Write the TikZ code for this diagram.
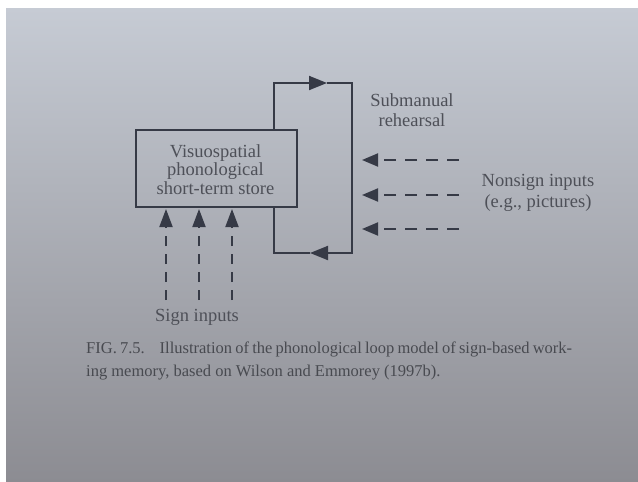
\documentclass[tikz,border=0pt]{standalone}
\usepackage{fontspec}
\setmainfont{Liberation Serif}
\usetikzlibrary{arrows.meta}
\definecolor{ink}{RGB}{54,58,70}
\definecolor{txt}{RGB}{78,80,88}
\definecolor{captxt}{RGB}{72,74,80}
\definecolor{bgtop}{RGB}{198,203,212}
\definecolor{bgmid}{RGB}{174,177,182}
\definecolor{bgbot}{RGB}{140,140,146}
\tikzset{
  solidline/.style={draw=ink, line width=1.9pt},
  looparrow/.style={solidline, -{Triangle[length=18pt,width=14pt]}},
  sidearrow/.style={draw=ink, line width=1.9pt, dash pattern=on 12pt off 9pt, -{Triangle[length=16pt,width=13pt]}},
  uparrow/.style={draw=ink, line width=1.9pt, dash pattern=on 10pt off 8pt, -{Triangle[length=18pt,width=13pt]}},
  lbl/.style={text=txt, align=center, inner sep=0pt},
  capline/.style={text=captxt, anchor=base west, inner sep=0pt, font=\fontsize{16.5}{19}\selectfont}
}
\begin{document}
\begin{tikzpicture}[x=1pt,y=-1pt]
\useasboundingbox (0,0) rectangle (638,482);
\fill[white] (0,0) rectangle (638,482);
\shade[top color=bgtop, middle color=bgmid, bottom color=bgbot] (6,8) rectangle (638,482);

% store box
\node[solidline, minimum width=161pt, minimum height=77pt, inner sep=0pt, anchor=north west] (store) at (135,129) {};
\node[lbl, font=\fontsize{18.5}{18.5}\selectfont] (storelbl) at (215.5,169.5) {Visuospatial\\phonological\\short-term store};

% rehearsal loop
\coordinate (s1) at (274,129);
\coordinate (lt) at (274,83);
\coordinate (mt) at (327,83);
\coordinate (rt) at (352,83);
\coordinate (rb) at (352,253);
\coordinate (mb) at (310,253);
\coordinate (lb) at (274,253);
\coordinate (s2) at (274,206);
\draw[looparrow] (s1) -- (lt) -- (mt);
\draw[looparrow] (mt) -- (rt) -- (rb) -- (mb);
\draw[solidline] (mb) -- (lb) -- (s2);

\node[lbl, font=\fontsize{18.5}{20}\selectfont] (rehearsal) at (412,110) {Submanual\\rehearsal};

% nonsign inputs
\coordinate (n1s) at (459,160); \coordinate (n1e) at (362,160);
\coordinate (n2s) at (459,195); \coordinate (n2e) at (362,195);
\coordinate (n3s) at (459,229); \coordinate (n3e) at (362,229);
\draw[sidearrow] (n1s) -- (n1e);
\draw[sidearrow] (n2s) -- (n2e);
\draw[sidearrow] (n3s) -- (n3e);
\node[lbl, font=\fontsize{18.5}{21}\selectfont] (nonsign) at (538,193) {Nonsign inputs\\(e.g., pictures)};

% sign inputs
\coordinate (u1s) at (166,300); \coordinate (u1e) at (166,209);
\coordinate (u2s) at (199,300); \coordinate (u2e) at (199,209);
\coordinate (u3s) at (232,300); \coordinate (u3e) at (232,209);
\draw[uparrow] (u1s) -- (u1e);
\draw[uparrow] (u2s) -- (u2e);
\draw[uparrow] (u3s) -- (u3e);
\node[lbl, font=\fontsize{18.5}{20}\selectfont] (sign) at (197,317) {Sign inputs};

% caption
\node[capline] (cap1) at (86,353) {\hbox to 486pt{FIG.\ 7.5.\hskip 0.9em plus 0.3em Illustration of the phonological loop model of sign-based work-}};
\node[capline] (cap2) at (86,376) {ing memory, based on Wilson and Emmorey (1997b).};
\end{tikzpicture}
\end{document}
